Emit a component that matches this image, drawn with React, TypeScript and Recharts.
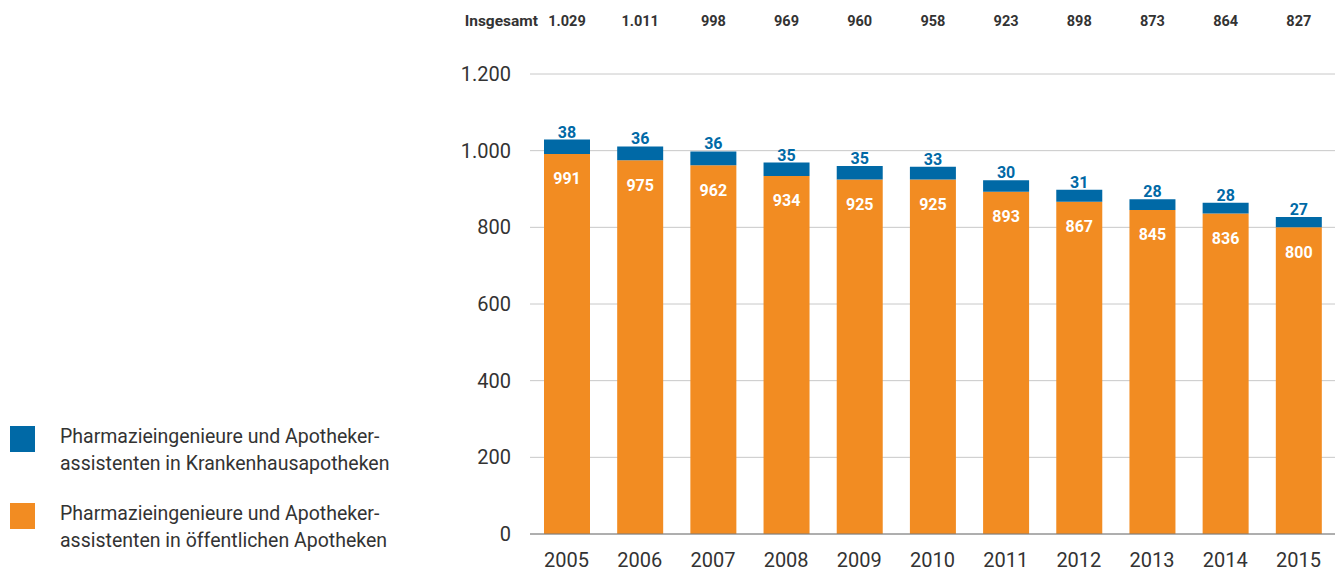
import { BarChart, Bar, XAxis, YAxis, CartesianGrid, Legend, LabelList } from "recharts";

const years = ["2005", "2006", "2007", "2008", "2009", "2010", "2011", "2012", "2013", "2014", "2015"];
const oeffentlich = [991, 975, 962, 934, 925, 925, 893, 867, 845, 836, 800];
const krankenhaus = [38, 36, 36, 35, 35, 33, 30, 31, 28, 28, 27];
const insgesamt = ["1.029", "1.011", "998", "969", "960", "958", "923", "898", "873", "864", "827"];
const yTicks = [0, 200, 400, 600, 800, 1000, 1200];

const ORANGE = "#f28c22";
const BLUE = "#0069a6";
const TEXT = "#333333";
const FONT = "Roboto, 'Noto Sans', sans-serif";

const data = years.map((year, i) => ({
  year,
  oeffentlich: oeffentlich[i],
  krankenhaus: krankenhaus[i],
  total: insgesamt[i],
}));

const fmt = (v: number) => v.toLocaleString("de-DE");

function TotalLabel(props: any) {
  const { x, width, value, index } = props;
  const cx = Number(x) + Number(width) / 2;
  return (
    <g>
      {index === 0 && (
        <text x={cx - 29} y={26} textAnchor="end" fontSize={15.5} fontWeight={700} fill={TEXT} fontFamily={FONT}>
          Insgesamt
        </text>
      )}
      <text x={cx} y={26} textAnchor="middle" fontSize={14.5} fontWeight={700} fill={TEXT} fontFamily={FONT}>
        {value}
      </text>
    </g>
  );
}

function LegendBox({ payload }: any) {
  const items = payload || [];
  return (
    <div style={{ fontFamily: FONT }}>
      {items.map((p: any) => (
        <div key={p.value} style={{ display: "flex", alignItems: "flex-start", marginBottom: 23 }}>
          <div style={{ width: 25, height: 26, background: p.color, marginTop: 3, flexShrink: 0 }} />
          <div style={{ marginLeft: 25, fontSize: 19.5, lineHeight: "27px", color: TEXT, whiteSpace: "pre-line" }}>
            {p.value}
          </div>
        </div>
      ))}
    </div>
  );
}

export default function App() {
  return (
    <div style={{ position: "absolute", left: 0, top: 0 }}>
      <BarChart
        width={1336}
        height={577}
        data={data}
        margin={{ top: 74, right: 1, left: 0, bottom: 0 }}
        style={{ fontFamily: FONT }}
      >
        <CartesianGrid vertical={false} stroke="#c8c8c8" />
        <XAxis
          dataKey="year"
          height={43}
          tickLine={false}
          axisLine={{ stroke: "#7a7a7a" }}
          tickSize={0}
          tickMargin={19}
          tick={{ fontSize: 20, fill: TEXT }}
        />
        <YAxis
          width={530}
          domain={[0, 1200]}
          ticks={yTicks}
          tickFormatter={fmt}
          axisLine={false}
          tickLine={false}
          tickSize={0}
          tickMargin={19}
          tick={{ fontSize: 20, fill: TEXT }}
        />
        <Legend
          layout="vertical"
          align="center"
          verticalAlign="middle"
          wrapperStyle={{ left: 10, top: 423, width: 420 }}
          content={<LegendBox />}
        />
        <Bar
          dataKey="oeffentlich"
          name={"Pharmazieingenieure und Apotheker-\nassistenten in öffentlichen Apotheken"}
          stackId="a"
          fill={ORANGE}
          barSize={46}
          isAnimationActive={false}
        >
          <LabelList dataKey="oeffentlich" position="insideTop" offset={19} fill="#ffffff" fontSize={16} fontWeight={700} />
        </Bar>
        <Bar
          dataKey="krankenhaus"
          name={"Pharmazieingenieure und Apotheker-\nassistenten in Krankenhausapotheken"}
          stackId="a"
          fill={BLUE}
          barSize={46}
          isAnimationActive={false}
        >
          <LabelList dataKey="krankenhaus" position="top" offset={2} fill={BLUE} fontSize={16} fontWeight={700} />
          <LabelList dataKey="total" content={<TotalLabel />} />
        </Bar>
      </BarChart>
    </div>
  );
}
